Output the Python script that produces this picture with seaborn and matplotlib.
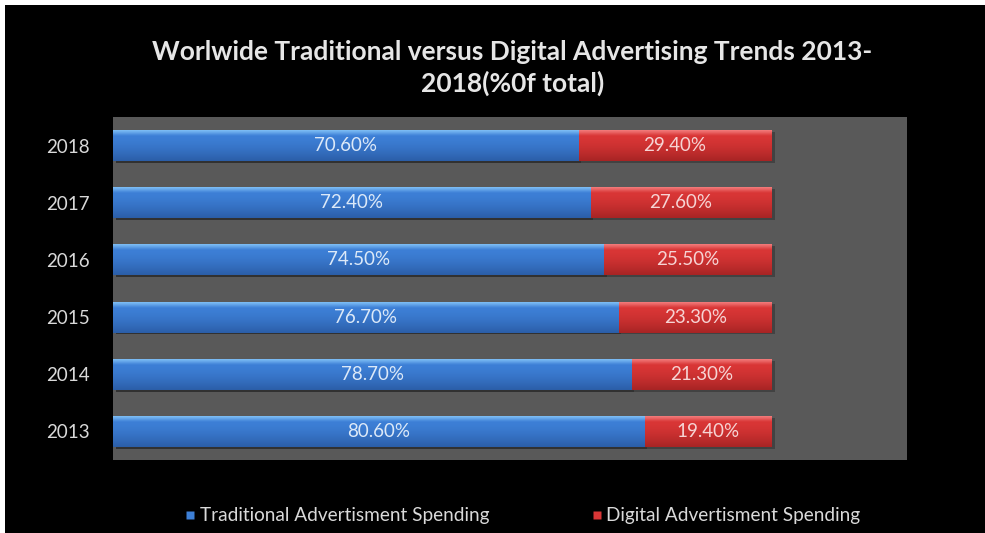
import numpy as np
import pandas as pd
import matplotlib
matplotlib.use("Agg")
import matplotlib.pyplot as plt
from matplotlib.patches import Rectangle
from matplotlib.lines import Line2D
import seaborn as sns

# Share of total ad spending, per year
years = ["2018", "2017", "2016", "2015", "2014", "2013"]
traditional = [70.6, 72.4, 74.5, 76.7, 78.7, 80.6]
digital = [29.4, 27.6, 25.5, 23.3, 21.3, 19.4]
series_names = ["Traditional Advertisment Spending", "Digital Advertisment Spending"]
title_text = "Worlwide Traditional versus Digital Advertising Trends 2013-\n2018(%0f total)"

df = pd.DataFrame({"year": years, "traditional": traditional, "digital": digital})
df["total"] = df["traditional"] + df["digital"]

sns.set_theme(style="dark")
plt.rcParams["font.family"] = ["Lato", "DejaVu Sans"]

BLUE = "#3d7fd6"
RED = "#d93636"
TEXT = "#d9d9d9"

fig = plt.figure(figsize=(9.85, 5.33), dpi=100, facecolor="white")
# black panel inside a thin white margin
fig.patches.append(Rectangle((5 / 985, 0), 1, 1 - 5 / 533, transform=fig.transFigure,
                             facecolor="black", edgecolor="none", zorder=-10))

ax = fig.add_axes([113 / 985, 1 - 460 / 533, (907 - 113) / 985, (460 - 117) / 533])
ax.set_facecolor("#595959")

# stacked bars: full total in red, traditional share in blue on top
sns.barplot(data=df, x="total", y="year", order=years, orient="h", color=RED,
            saturation=1, width=0.54, ax=ax, linewidth=0)
sns.barplot(data=df, x="traditional", y="year", order=years, orient="h", color=BLUE,
            saturation=1, width=0.54, ax=ax, linewidth=0)

n = len(years)
red_bars = ax.patches[:n]
blue_bars = ax.patches[n:]


def shade(base, light, dark, rows=40):
    base = np.array(matplotlib.colors.to_rgb(base))
    light = np.array(matplotlib.colors.to_rgb(light))
    dark = np.array(matplotlib.colors.to_rgb(dark))
    t = np.linspace(0, 1, rows)[:, None]
    out = np.where(t < 0.18, light + (base - light) * (t / 0.18),
                   base + (dark - base) * np.clip((t - 0.18) / 0.82, 0, 1) ** 1.5)
    return out[:, None, :]


grad_red = shade(RED, "#f27a7a", "#a82424")
grad_blue = shade(BLUE, "#7dbdf5", "#2b5ea8")
for bars, grad in ((red_bars, grad_red), (blue_bars, grad_blue)):
    for p in bars:
        x0, y0, w, h = p.get_x(), p.get_y(), p.get_width(), p.get_height()
        # soft drop shadow under each bar
        ax.add_patch(Rectangle((x0 + 0.4, y0 + h * 0.06), w, h, facecolor="black",
                               alpha=0.25, edgecolor="none", zorder=p.get_zorder() - 0.5))
        im = ax.imshow(grad, extent=(x0, x0 + w, y0 + h, y0), aspect="auto",
                       zorder=p.get_zorder() + 0.1, interpolation="bilinear")
        im.set_clip_path(p)

ax.set_xlim(0, 120.5)
ax.set_ylim(n - 0.5, -0.5)

# value labels centred in each segment
for i, (t_val, d_val) in enumerate(zip(traditional, digital)):
    ax.text(t_val / 2, i, f"{t_val:.2f}%", ha="center", va="center",
            color="#dce9f8", fontsize=13.5, zorder=5)
    ax.text(t_val + d_val / 2, i, f"{d_val:.2f}%", ha="center", va="center",
            color="#f6d4d4", fontsize=13.5, zorder=5)

ax.set_xlabel("")
ax.set_ylabel("")
ax.set_xticks([])
ax.tick_params(axis="y", length=0, pad=17, labelsize=13.5, labelcolor=TEXT)
for s in ax.spines.values():
    s.set_visible(False)
ax.grid(False)

fig.text(0.52, 1 - 68 / 533, title_text, ha="center", va="center", color="#e6e6e6",
         fontsize=19, fontweight="bold", linespacing=1.35)

handles = [Line2D([], [], marker="s", linestyle="none", markersize=6,
                  markerfacecolor=c, markeredgecolor="none") for c in (BLUE, RED)]
leg = fig.legend(handles, series_names, loc="center", bbox_to_anchor=(0.53, 1 - 516 / 533),
                 ncol=2, frameon=False, fontsize=13.7, handletextpad=0.15,
                 columnspacing=5.3, handlelength=0.7)
for t in leg.get_texts():
    t.set_color(TEXT)

fig.savefig("out.png", dpi=100, facecolor=fig.get_facecolor())
